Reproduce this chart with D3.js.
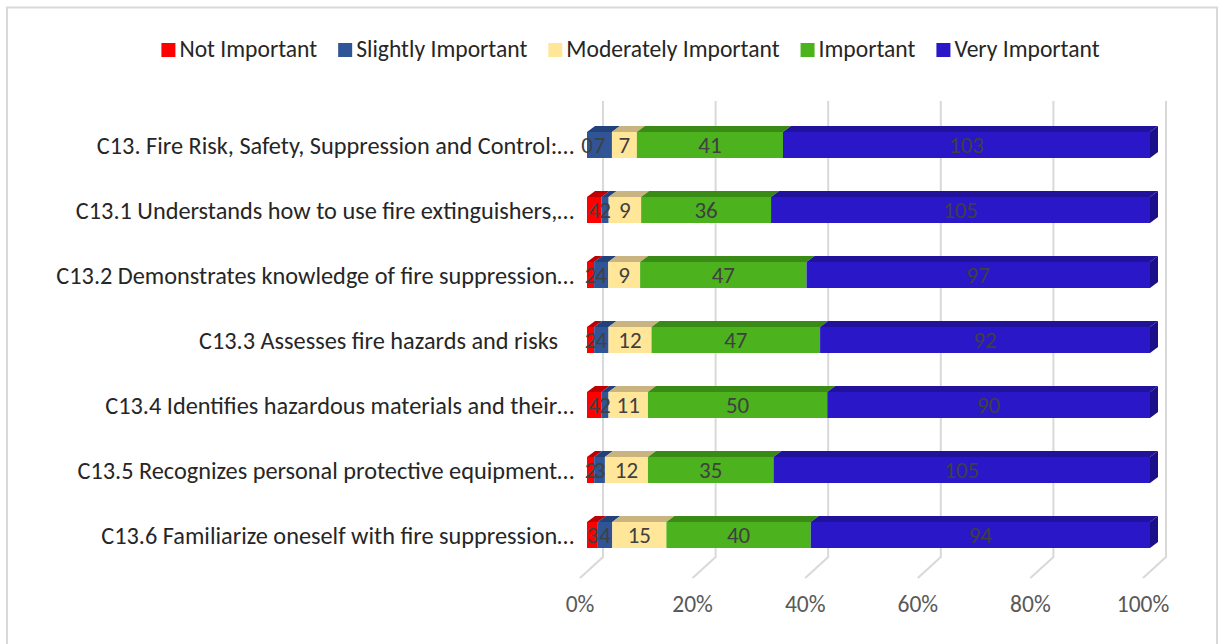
<!DOCTYPE html>
<html><head><meta charset="utf-8">
<script src="https://cdn.jsdelivr.net/npm/d3@7"></script>
<style>
html,body{margin:0;padding:0;background:#fff;}
svg{display:block;}
text{font-family:Carlito,Lato,"Open Sans",sans-serif;}
</style></head>
<body>
<svg id="chart" width="1223" height="644"></svg>
<script>
const categories = [
  "C13. Fire Risk, Safety, Suppression and Control:…",
  "C13.1 Understands how to use fire extinguishers,…",
  "C13.2 Demonstrates knowledge of fire suppression…",
  "C13.3 Assesses fire hazards and risks",
  "C13.4 Identifies hazardous materials and their…",
  "C13.5 Recognizes personal protective equipment…",
  "C13.6 Familiarize oneself with fire suppression…"
];
const seriesNames = ["Not Important","Slightly Important","Moderately Important","Important","Very Important"];
const notImportant      = [0, 4, 2, 2, 4, 2, 3];
const slightlyImportant = [7, 2, 4, 4, 2, 3, 4];
const moderately        = [7, 9, 9, 12, 11, 12, 15];
const important         = [41, 36, 47, 47, 50, 35, 40];
const veryImportant     = [103, 105, 97, 92, 90, 105, 94];
const tickValues = [0, 0.2, 0.4, 0.6, 0.8, 1.0];

const frontColors = ["#ff0000","#2f5597","#ffe699","#4cb31e","#2a17c8"];
const topColors   = ["#c00000","#23417a","#c9b480","#3a8a16","#21129c"];
const sideColor   = "#1c0f8a";

const svg = d3.select("#chart");

// border
svg.append("rect").attr("x",7).attr("y",7.5).attr("width",1210).attr("height",650)
  .attr("fill","none").attr("stroke","#d9d9d9").attr("stroke-width",2);

const x = d3.scaleLinear().domain([0,1]).range([587,1150]);
const y = d3.scaleBand().domain(categories).range([112.5,567.5]).paddingInner(0.6).paddingOuter(0.3);
const dX = 8, dY = 6;          // bar depth offsets
const gdx = 16, gTop = 101, gBot = 557; // back wall

// gridlines (back wall + floor)
const g = svg.append("g");
tickValues.forEach(v=>{
  const xb = x(v)+gdx;
  g.append("path")
    .attr("d",`M${xb},${gTop}L${xb},${gBot}L${x(v)-7},${gBot+21}`)
    .attr("fill","none").attr("stroke","#d9d9d9").attr("stroke-width",2);
});

// tick labels
const fmt = d3.format(".0%");
svg.append("g").selectAll("text").data(tickValues).join("text")
  .attr("x",d=>x(d)-7).attr("y",604).attr("dy","0.35em")
  .attr("text-anchor","middle").attr("font-size",23.5).attr("fill","#595959")
  .text(d=>fmt(d));

// data rows
const series = [notImportant, slightlyImportant, moderately, important, veryImportant];
const rows = categories.map((c,i)=>{
  const vals = series.map(s=>s[i]);
  const total = d3.sum(vals);
  let acc = 0;
  const segs = vals.map((v,k)=>{ const s = {k, v, x0: acc/total, x1: (acc+v)/total}; acc += v; return s; });
  return {c, segs};
});

const bars = svg.append("g");
rows.forEach(r=>{
  const yt = y(r.c), h = y.bandwidth();
  const rg = bars.append("g");
  r.segs.forEach(s=>{
    const x0 = x(s.x0), x1 = x(s.x1);
    if (s.v === 0) return;
    rg.append("path")
      .attr("d",`M${x0},${yt}L${x0+dX},${yt-dY}L${x1+dX},${yt-dY}L${x1},${yt}Z`)
      .attr("fill",topColors[s.k]);
    rg.append("rect").attr("x",x0).attr("y",yt).attr("width",x1-x0).attr("height",h)
      .attr("fill",frontColors[s.k]);
  });
  const xe = x(1);
  rg.append("path")
    .attr("d",`M${xe},${yt}L${xe+dX},${yt-dY}L${xe+dX},${yt+h-dY}L${xe},${yt+h}Z`)
    .attr("fill",sideColor);
  r.segs.forEach(s=>{
    const x0 = x(s.x0), x1 = x(s.x1);
    rg.append("text").attr("x",(x0+x1)/2).attr("y",yt+h/2)
      .attr("dy","0.36em").attr("text-anchor","middle")
      .attr("font-size",23).attr("fill","#404040").text(s.v);
  });
});

// category labels
svg.append("g").selectAll("text").data(categories).join("text")
  .attr("x",d=> d.endsWith("…") ? 574 : 558)
  .attr("y",d=>y(d)+y.bandwidth()/2).attr("dy","0.36em")
  .attr("text-anchor","end").attr("font-size",24.3).attr("fill","#262626")
  .text(d=>d);

// legend
const lg = svg.append("g");
let lx = 0;
seriesNames.forEach((n,k)=>{
  const it = lg.append("g");
  it.append("rect").attr("x",0).attr("y",-14).attr("width",14).attr("height",14).attr("fill",frontColors[k]);
  const t = it.append("text").attr("x",18).attr("y",0).attr("font-size",23.6).attr("fill","#262626").text(n);
  const w = 18 + t.node().getComputedTextLength();
  it.attr("transform",`translate(${lx},57)`);
  lx += w + 21;
});
const totalW = lx - 21;
lg.attr("transform",`translate(${630.5 - totalW/2},0)`);
</script>
</body></html>
